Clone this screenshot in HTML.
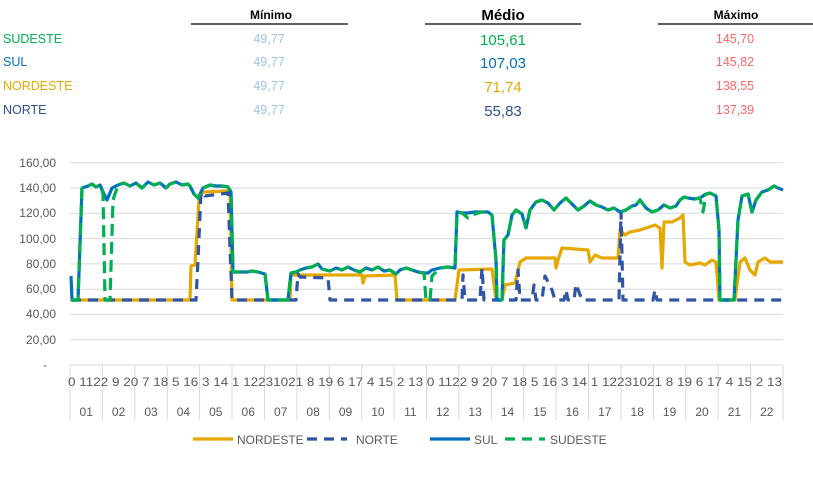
<!DOCTYPE html>
<html><head><meta charset="utf-8"><style>
body{margin:0;background:#fff;font-family:"Liberation Sans",sans-serif;}
svg{display:block}
</style></head><body>
<svg width="813" height="486" xmlns="http://www.w3.org/2000/svg" font-family="Liberation Sans, sans-serif">
<g font-weight="bold" text-anchor="middle" fill="#000">
<text x="271" y="19" font-size="12">Mínimo</text>
<text x="503" y="20" font-size="15">Médio</text>
<text x="736" y="19" font-size="12">Máximo</text>
</g>
<g stroke="#000" stroke-width="1.2">
<line x1="191" y1="24" x2="348" y2="24"/><line x1="425" y1="24" x2="581" y2="24"/><line x1="658" y1="24" x2="813" y2="24"/>
</g>
<g font-size="12.5">
<text x="3" y="43" fill="#00b050">SUDESTE</text>
<text x="3" y="66" fill="#0070c0">SUL</text>
<text x="3" y="90" fill="#e8a800">NORDESTE</text>
<text x="3" y="114" fill="#2f4f8f">NORTE</text>
</g>
<g font-size="12.5" fill="#9dc3e6" text-anchor="middle">
<text x="269" y="43">49,77</text><text x="269" y="66">49,77</text><text x="269" y="90">49,77</text><text x="269" y="114">49,77</text>
</g>
<g font-size="15" text-anchor="middle">
<text x="503" y="45" fill="#00b050">105,61</text><text x="503" y="68" fill="#0070c0">107,03</text><text x="503" y="92" fill="#e8a800">71,74</text><text x="503" y="116" fill="#2f4f8f">55,83</text>
</g>
<g font-size="12.5" fill="#ff6666" text-anchor="middle">
<text x="735" y="43">145,70</text><text x="735" y="66">145,82</text><text x="735" y="90">138,55</text><text x="735" y="114">137,39</text>
</g>
<g stroke="#d9d9d9" stroke-width="1">
<line x1="70" y1="162.8" x2="783" y2="162.8"/><line x1="70" y1="188" x2="783" y2="188"/><line x1="70" y1="213.3" x2="783" y2="213.3"/><line x1="70" y1="238.6" x2="783" y2="238.6"/><line x1="70" y1="263.9" x2="783" y2="263.9"/><line x1="70" y1="289.2" x2="783" y2="289.2"/><line x1="70" y1="314.4" x2="783" y2="314.4"/><line x1="70" y1="339.7" x2="783" y2="339.7"/><line x1="70" y1="365" x2="783" y2="365"/>
</g>
<g stroke="#d9d9d9" stroke-width="1">
<line x1="70" y1="365" x2="70" y2="420"/><line x1="102.4" y1="365" x2="102.4" y2="420"/><line x1="134.8" y1="365" x2="134.8" y2="420"/><line x1="167.2" y1="365" x2="167.2" y2="420"/><line x1="199.6" y1="365" x2="199.6" y2="420"/><line x1="232" y1="365" x2="232" y2="420"/><line x1="264.5" y1="365" x2="264.5" y2="420"/><line x1="296.9" y1="365" x2="296.9" y2="420"/><line x1="329.3" y1="365" x2="329.3" y2="420"/><line x1="361.7" y1="365" x2="361.7" y2="420"/><line x1="394.1" y1="365" x2="394.1" y2="420"/><line x1="426.5" y1="365" x2="426.5" y2="420"/><line x1="458.9" y1="365" x2="458.9" y2="420"/><line x1="491.3" y1="365" x2="491.3" y2="420"/><line x1="523.7" y1="365" x2="523.7" y2="420"/><line x1="556.1" y1="365" x2="556.1" y2="420"/><line x1="588.5" y1="365" x2="588.5" y2="420"/><line x1="621" y1="365" x2="621" y2="420"/><line x1="653.4" y1="365" x2="653.4" y2="420"/><line x1="685.8" y1="365" x2="685.8" y2="420"/><line x1="718.2" y1="365" x2="718.2" y2="420"/><line x1="750.6" y1="365" x2="750.6" y2="420"/><line x1="783" y1="365" x2="783" y2="420"/>
</g>
<g font-size="12" fill="#595959" text-anchor="end">
<text x="56" y="167">160,00</text><text x="56" y="192">140,00</text><text x="56" y="217">120,00</text><text x="56" y="243">100,00</text><text x="56" y="268">80,00</text><text x="56" y="293">60,00</text><text x="56" y="318">40,00</text><text x="56" y="344">20,00</text><text x="47" y="369">-</text>
</g>
<text x="68" y="386" font-size="12" fill="#595959" textLength="714" lengthAdjust="spacingAndGlyphs">0 1122 9 20 7 18 5 16 3 14 1 12231021 8 19 6 17 4 15 2 13 0 1122 9 20 7 18 5 16 3 14 1 12231021 8 19 6 17 4 15 2 13</text>
<g font-size="12" fill="#595959" text-anchor="middle">
<text x="86.2" y="416">01</text><text x="118.6" y="416">02</text><text x="151" y="416">03</text><text x="183.4" y="416">04</text><text x="215.8" y="416">05</text><text x="248.2" y="416">06</text><text x="280.7" y="416">07</text><text x="313.1" y="416">08</text><text x="345.5" y="416">09</text><text x="377.9" y="416">10</text><text x="410.3" y="416">11</text><text x="442.7" y="416">12</text><text x="475.1" y="416">13</text><text x="507.5" y="416">14</text><text x="539.9" y="416">15</text><text x="572.3" y="416">16</text><text x="604.8" y="416">17</text><text x="637.2" y="416">18</text><text x="669.6" y="416">19</text><text x="702" y="416">20</text><text x="734.4" y="416">21</text><text x="766.8" y="416">22</text>
</g>
<g fill="none" stroke-linejoin="round" stroke-width="3.2">
<polyline stroke="#e6a800" points="71,300 190,300 191,266 195,265 199,200 203,192 230,191 232,300 290,300 291,275 362,275 363,283 365,276 395,275 397,300 455,300 459,270 492,269 496,300 502,300 505,285 515,283 520,262 526,258 555,258 556,268 558,260 562,248 588,250 590,262 595,255 602,258 618,258 620,230 625,235 630,232 640,230 655,225 660,228 662,268 664,222 672,222 680,218 683,215 685,262 690,265 700,263 705,265 712,260 716,262 719,300 735,300 740,262 745,258 750,270 755,275 758,262 765,258 770,262 783,262"/>
<polyline stroke="#2f55a4" stroke-dasharray="10,7" points="71,300 196,300 198,260 201,192 205,196 228,193 232,300 296,300 298,274 300,277 328,278 330,300 462,300 463,275 465,300 480,300 482,268 484,300 516,300 518,270 520,300 532,300 534,285 536,300 542,300 545,276 552,290 555,300 564,300 566,290 568,300 574,300 576,284 582,300 619,300 621,212 623,300 653,300 655,290 657,300 783,300"/>
<polyline stroke="#0070c0" points="71,276 72,300 78,300 82,188 88,186 92,184 96,187 100,185 104,194 107,200 112,188 118,185 124,183 130,186 136,183 142,188 148,182 154,185 160,183 166,188 170,184 176,182 182,185 188,184 190,186 194,194 198,198 203,188 210,185 216,186 222,186 228,187 231,192 233,272 240,272 248,272 252,271 258,272 265,274 268,300 288,300 291,273 296,272 300,270 306,268 312,267 318,264 322,269 330,271 336,268 342,270 348,267 354,270 360,272 366,268 372,270 378,267 384,271 390,270 396,274 400,270 406,268 412,270 418,272 424,273 428,273 432,270 440,268 448,267 455,268 457,212 462,213 468,213 475,212 482,212 488,212 492,215 496,260 497,300 502,300 504,240 508,235 512,215 516,210 522,214 526,228 530,210 536,202 542,200 548,203 554,210 560,203 566,198 572,204 578,210 584,206 590,201 596,205 602,207 608,210 614,208 620,212 626,210 632,206 636,205 640,200 646,208 652,212 658,210 664,205 670,208 676,206 680,200 684,197 688,198 694,199 700,198 706,194 710,193 716,196 719,230 720,300 734,300 738,220 742,196 748,194 752,212 756,200 762,192 768,190 774,186 778,188 783,190"/>
<polyline stroke="#00b050" stroke-dasharray="12,6" points="71,300 78,300 82,188 88,186 92,184 96,187 100,185 103,194 105,300 110,300 113,200 118,185 124,183 130,186 136,183 142,188 148,182 154,185 160,183 166,188 170,184 176,182 182,185 188,184 190,186 194,194 198,198 203,188 210,185 216,186 222,186 228,187 231,192 233,272 240,272 248,272 252,271 258,272 265,274 268,300 288,300 291,273 296,272 300,270 306,268 312,267 318,264 322,269 330,271 336,268 342,270 348,267 354,270 360,272 366,268 372,270 378,267 384,271 390,270 396,274 400,270 406,268 412,270 418,272 424,273 426,300 430,300 432,276 440,268 448,267 455,268 457,212 462,213 468,218 475,214 482,212 488,212 492,215 496,260 497,300 502,300 504,240 508,235 512,215 516,210 522,214 526,228 530,210 536,202 542,200 548,203 554,210 560,203 566,198 572,204 578,210 584,206 590,201 596,205 602,207 608,210 614,208 620,212 626,210 632,206 636,205 640,200 646,208 652,212 658,210 664,205 670,208 676,206 680,200 684,197 688,198 694,199 700,198 703,212 706,194 710,193 716,196 719,230 720,300 734,300 738,220 742,196 748,194 752,212 756,200 762,192 768,190 774,186 778,188 783,190"/>
</g>
<g stroke-width="3.2">
<line x1="193" y1="439" x2="233" y2="439" stroke="#e6a800"/>
<line x1="307" y1="439" x2="347" y2="439" stroke="#2f55a4" stroke-dasharray="10,7"/>
<line x1="430" y1="439" x2="470" y2="439" stroke="#0070c0"/>
<line x1="505" y1="439" x2="545" y2="439" stroke="#00b050" stroke-dasharray="10,7"/>
</g>
<g font-size="12" fill="#595959">
<text x="237" y="444">NORDESTE</text><text x="356" y="444">NORTE</text><text x="474" y="444">SUL</text><text x="550" y="444">SUDESTE</text>
</g>
</svg>
</body></html>
